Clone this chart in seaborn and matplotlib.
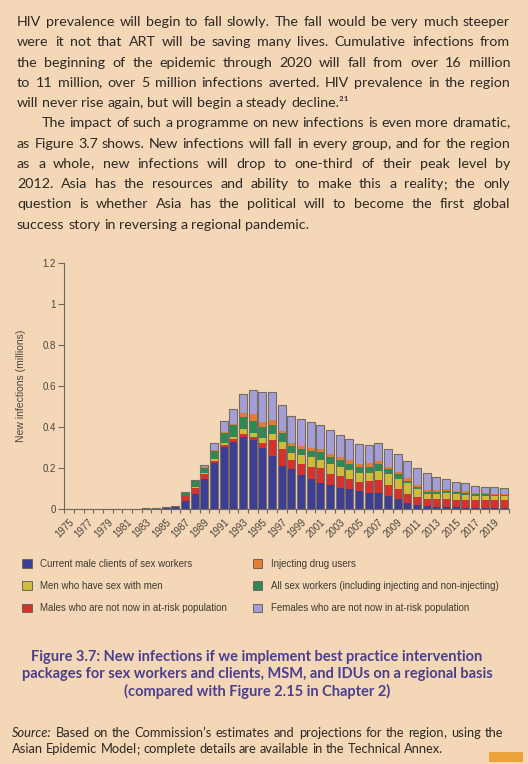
import numpy as np
import pandas as pd
import matplotlib
matplotlib.use('Agg')
import matplotlib.pyplot as plt
from matplotlib.patches import Patch, Rectangle
import seaborn as sns

# new infections (millions) by group, 1975-2020
years = list(range(1975, 2021))
clients = [0, 0, 0, 0, 0, 0, 0.001, 0.002, 0.005, 0.004, 0.009, 0.013,
           0.038, 0.072, 0.145, 0.223, 0.301, 0.329, 0.350, 0.339, 0.296, 0.257,
           0.210, 0.194, 0.164, 0.147, 0.129, 0.116, 0.101, 0.099, 0.088, 0.078,
           0.077, 0.065, 0.047, 0.031, 0.018, 0.013, 0.011, 0.010, 0.008, 0.006,
           0.006, 0.006, 0.005, 0.005]
males = [0, 0, 0, 0, 0, 0, 0, 0, 0.001, 0.001, 0.002, 0.002,
         0.025, 0.033, 0.024, 0.011, 0.011, 0.013, 0.016, 0.011, 0.025, 0.078,
         0.082, 0.045, 0.056, 0.060, 0.070, 0.055, 0.060, 0.048, 0.044, 0.057,
         0.065, 0.052, 0.051, 0.042, 0.039, 0.036, 0.036, 0.037, 0.036, 0.038,
         0.036, 0.036, 0.037, 0.039]
msm = [0, 0, 0, 0, 0, 0, 0, 0, 0, 0, 0, 0,
       0.002, 0.003, 0.006, 0.008, 0.010, 0.010, 0.023, 0.023, 0.026, 0.030,
       0.037, 0.036, 0.042, 0.045, 0.040, 0.049, 0.046, 0.043, 0.045, 0.042,
       0.045, 0.052, 0.047, 0.052, 0.041, 0.024, 0.026, 0.033, 0.028, 0.024,
       0.023, 0.021, 0.020, 0.018]
sex_workers = [0, 0, 0, 0, 0, 0, 0, 0, 0, 0, 0, 0.001,
               0.015, 0.030, 0.027, 0.040, 0.048, 0.060, 0.059, 0.057, 0.052, 0.044,
               0.041, 0.034, 0.033, 0.031, 0.039, 0.032, 0.032, 0.030, 0.027, 0.030,
               0.033, 0.025, 0.024, 0.013, 0.011, 0.012, 0.012, 0.006, 0.009, 0.012,
               0.008, 0.009, 0.006, 0.005]
idu = [0, 0, 0, 0, 0, 0, 0, 0, 0, 0, 0, 0,
       0.001, 0.002, 0.003, 0.005, 0.004, 0.005, 0.019, 0.036, 0.026, 0.024,
       0.011, 0.012, 0.014, 0.013, 0.015, 0.017, 0.017, 0.019, 0.016, 0.016,
       0.014, 0.013, 0.013, 0.012, 0.008, 0.008, 0.008, 0.010, 0.007, 0.008,
       0.007, 0.006, 0.007, 0.006]
females = [0, 0, 0, 0, 0, 0, 0, 0, 0, 0, 0, 0,
           0.004, 0.003, 0.010, 0.034, 0.054, 0.070, 0.095, 0.117, 0.145, 0.137,
           0.127, 0.133, 0.131, 0.129, 0.117, 0.117, 0.105, 0.101, 0.096, 0.090,
           0.087, 0.086, 0.085, 0.083, 0.082, 0.081, 0.065, 0.049, 0.046, 0.039,
           0.034, 0.031, 0.031, 0.031]

labels = {
    'clients': 'Current male clients of sex workers',
    'msm': 'Men who have sex with men',
    'males': 'Males who are not now in at-risk population',
    'idu': 'Injecting drug users',
    'sex_workers': 'All sex workers (including injecting and non-injecting)',
    'females': 'Females who are not now in at-risk population',
}
colors = {
    'clients': '#3b3e92',
    'males': '#d6312d',
    'msm': '#cdbd38',
    'sex_workers': '#2e8a52',
    'idu': '#e47c33',
    'females': '#a39fd6',
}
stack = ['clients', 'males', 'msm', 'sex_workers', 'idu', 'females']
legend_order = ['clients', 'msm', 'males', 'idu', 'sex_workers', 'females']

body = [
    ("HIV prevalence will begin to fall slowly. The fall would be very much steeper", 17, True),
    ("were it not that ART will be saving many lives. Cumulative infections from", 17, True),
    ("the beginning of the epidemic through 2020 will fall from over 16 million", 17, True),
    ("to 11 million, over 5 million infections averted. HIV prevalence in the region", 17, True),
    ("will never rise again, but will begin a steady decline.\u00b2\u00b9", 17, False),
    ("The impact of such a programme on new infections is even more dramatic,", 42, True),
    ("as Figure 3.7 shows. New infections will fall in every group, and for the region", 17, True),
    ("as a whole, new infections will drop to one-third of their peak level by", 17, True),
    ("2012. Asia has the resources and ability to make this a reality; the only", 17, True),
    ("question is whether Asia has the political will to become the first global", 17, True),
    ("success story in reversing a regional pandemic.", 17, False),
]
caption = [
    "Figure 3.7: New infections if we implement best practice intervention",
    "packages for sex workers and clients, MSM, and IDUs on a regional basis",
    "(compared with Figure 2.15 in Chapter 2)",
]
source = [
    ("Source: Based on the Commission\u2019s estimates and projections for the region, using the", True),
    ("Asian Epidemic Model; complete details are available in the Technical Annex.", False),
]

BG = '#f3d7b6'
INK = '#2d2926'
AXC = '#6f665e'
LAB = '#4a4541'
PURPLE = '#4a3f90'

sns.set_style('white')
plt.rcParams['font.family'] = ['Liberation Sans', 'DejaVu Sans']

W, H = 528, 764
fig = plt.figure(figsize=(5.28, 7.64), dpi=100)
fig.patch.set_facecolor(BG)


def fx(px):
    return px / W


def fy(py):
    return 1 - py / H


ax = fig.add_axes([fx(64.2), fy(509), (508.8 - 64.2) / W, (509 - 263.3) / H])
ax.set_facecolor('none')

df = pd.DataFrame({'year': [str(y) for y in years], 'clients': clients, 'males': males,
                   'msm': msm, 'sex_workers': sex_workers, 'idu': idu, 'females': females})
cum = df[stack].cumsum(axis=1)
cum['year'] = df['year']

# stacked bars: draw cumulative totals from the top layer down
for key in reversed(stack):
    sns.barplot(data=cum, x='year', y=key, color=colors[key], saturation=1,
                width=0.82, linewidth=0, errorbar=None, ax=ax)
sns.barplot(data=cum, x='year', y='females', color='#766c66', fill=False,
            width=0.82, linewidth=0.8, errorbar=None, ax=ax)

ax.set_xlim(-0.5, len(years) - 0.5)
ax.set_ylim(0, 1.2)
for s in ['top', 'right']:
    ax.spines[s].set_visible(False)
for s in ['left', 'bottom']:
    ax.spines[s].set_color(AXC)
    ax.spines[s].set_linewidth(0.8)

ax.set_yticks(np.arange(0, 1.21, 0.2), labels=['0', '0.2', '0.4', '0.6', '0.8', '1', '1.2'])
ax.tick_params(axis='y', direction='out', length=4.3, width=0.8, color=AXC,
               labelsize=7, labelcolor=LAB, pad=1.5, left=True)

ax.set_xticks(np.arange(-0.5, len(years), 1))
ax.tick_params(axis='x', which='major', direction='out', length=3, width=0.8,
               color=AXC, labelbottom=False, bottom=True)
ax.set_xticks(np.arange(0, len(years), 2), labels=[str(y) for y in years[::2]], minor=True)
ax.tick_params(axis='x', which='minor', length=0, labelsize=7,
               labelcolor=LAB, pad=6, labelrotation=45)
for lab in ax.get_xticklabels(minor=True):
    lab.set_ha('right')
    lab.set_rotation_mode('anchor')

ax.set_xlabel('')
ax.set_ylabel('New infections (millions)', fontsize=7.5, color=LAB)
ax.yaxis.set_label_coords(-0.086, 0.5)

handles = [Patch(facecolor=colors[k], edgecolor='#6d6460', linewidth=0.7, label=labels[k])
           for k in legend_order]
fig.legend(handles=handles, loc='upper left', bbox_to_anchor=(fx(22), fy(559)),
           ncol=2, frameon=False, fontsize=7, labelcolor='#3e3a37',
           handlelength=1.0, handleheight=1.0, handletextpad=0.9,
           labelspacing=1.25, columnspacing=2.6, borderaxespad=0, borderpad=0)

# page text
renderer = fig.canvas.get_renderer()


def text_width(s, size, **kw):
    t = fig.text(0, 0, s, fontsize=size, **kw)
    w = t.get_window_extent(renderer).width
    t.remove()
    return w


def natural_width(line, size, **kw):
    words = line.split(' ')
    sp = text_width('a a', size, **kw) - text_width('aa', size, **kw)
    return sum(text_width(w, size, **kw) for w in words) + sp * (len(words) - 1)


def put_word(x, base, word, size, style, **kw):
    # trailing , or ; drawn apart so the word keeps the common baseline
    core, tail = word, ''
    if len(word) > 1 and word[-1] in ',;':
        core, tail = word[:-1], word[-1]
    fig.text(fx(x), fy(base), core, fontsize=size, style=style, ha='left',
             va='baseline', **kw)
    if tail:
        xt = x + text_width(word, size, style=style, **kw) - text_width(tail, size, style=style, **kw) - 1.0
        fig.text(fx(xt), fy(base), tail, fontsize=size, style=style, ha='left',
                 va='baseline', **kw)


def draw_line(line, x0, x1, base, size, justify, italic_first=False, **kw):
    words = line.split(' ')
    styles = ['italic' if (italic_first and i == 0) else 'normal' for i in range(len(words))]
    widths = [text_width(w, size, style=st, **kw) for w, st in zip(words, styles)]
    if justify and len(words) > 1:
        gap = (x1 - x0 - sum(widths)) / (len(words) - 1)
    else:
        gap = text_width('a a', size, **kw) - text_width('aa', size, **kw)
    x = x0
    base = round(base)
    for w, wd, st in zip(words, widths, styles):
        put_word(x, base, w, size, st, **kw)
        x += wd + gap


body_kw = dict(family=['Lato', 'DejaVu Sans'], color=INK)
right = 510
base_size = 10
ratios = [(right - x0) / natural_width(line, base_size, **body_kw)
          for line, x0, j in body if j]
body_size = base_size * min(ratios) * 0.995
for i, (line, x0, j) in enumerate(body):
    draw_line(line, x0, right, 26 + 20.27 * i, body_size, j, **body_kw)

cap_kw = dict(family=['Lato', 'DejaVu Sans'], weight='bold', color=PURPLE)
cap_size = 10 * 471 / text_width(caption[1], 10, **cap_kw)
for i, line in enumerate(caption):
    fig.text(fx(257), fy(round(661 + 17.5 * i)), line, fontsize=cap_size, ha='center',
             va='baseline', **cap_kw)

src_kw = dict(family=['Lato', 'DejaVu Sans'], color=INK)
src_size = 10 * 491 / natural_width(source[0][0], 10, **src_kw) * 0.99
for i, (line, j) in enumerate(source):
    draw_line(line, 12, 503, 737 + 16 * i, src_size, j, italic_first=(i == 0), **src_kw)

fig.patches.append(Rectangle((fx(489), fy(762)), (523 - 489) / W, 10 / H,
                             transform=fig.transFigure, facecolor='#eba23a',
                             edgecolor='none'))

fig.savefig('out.png', dpi=100, facecolor=BG)
